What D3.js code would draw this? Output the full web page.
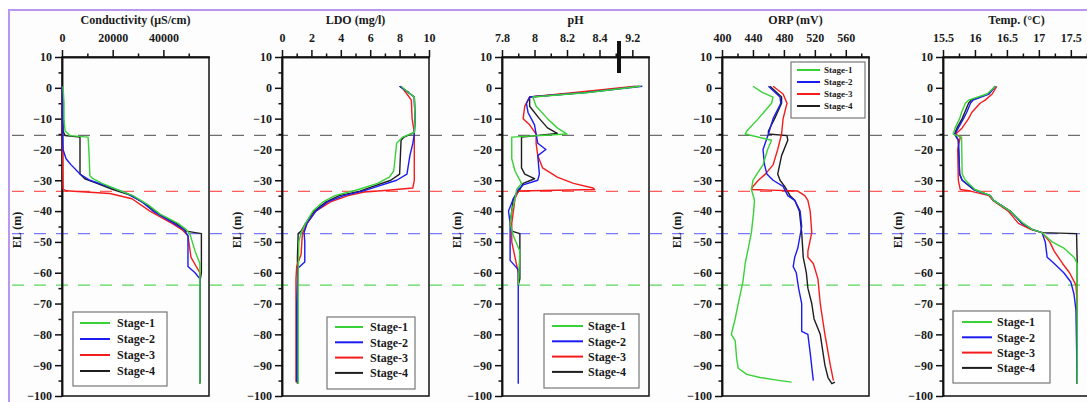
<!DOCTYPE html>
<html>
<head>
<meta charset="utf-8">
<script src="https://cdn.jsdelivr.net/npm/d3@7"></script>
<style>
  body { margin: 0; background: #fff; }
  svg text { font-family: "Liberation Serif", "Times New Roman", serif; font-weight: bold; fill: #1a1a1a; }
</style>
</head>
<body>
<div id="chart"></div>
<script>
// ---- data: [value, EL (m)] pairs ----
const stageNames = ['Stage-1', 'Stage-2', 'Stage-3', 'Stage-4'];
const stageColors = ['#38d238', '#1c1cf0', '#f41c1c', '#1e1e1e'];

const elMajor = d3.range(-100, 11, 10);
const elMinor = d3.range(-95, 10, 10);

const markerLevels = [-15.4, -33.6, -47.3, -64];
const markerColors = ['#6e6e6e', '#ff5c5c', '#7a7aff', '#5cd65c'];

// Conductivity (uS/cm)
const condMajor = [0, 20000, 40000];
const condMinor = [10000, 30000, 50000];
const condStage1 = [[400,0.5],[800,-5],[800,-10],[1200,-14],[3200,-15.5],[10300,-16],[10700,-22],[11000,-28.5],[12200,-29.5],[15800,-31],[21700,-33],[28000,-35],[34000,-38],[38700,-41],[45800,-44],[49000,-46],[50500,-47.5],[52500,-53],[54400,-57],[54400,-96]];
const condStage2 = [[0,0.5],[200,-15],[400,-20],[1600,-23],[3600,-25],[7100,-28],[11000,-30],[18100,-32],[24900,-34],[31600,-37],[35900,-40],[44200,-44],[48100,-46],[49700,-48],[49700,-58],[52500,-60],[54400,-62],[54400,-95.5]];
const condStage3 = [[0,0.5],[200,-20],[400,-32.8],[1500,-33.4],[18900,-34.3],[27600,-36],[34700,-40],[43400,-44],[47300,-46],[49700,-48],[50900,-55],[54400,-60],[54400,-95.5]];
const condStage4 = [[200,0.5],[400,-14],[1200,-15.5],[7100,-16],[7100,-28],[9000,-29.5],[13800,-31],[20100,-33],[27600,-35],[33500,-38],[38300,-41],[45000,-44],[49000,-46.5],[55000,-47.3],[55000,-60],[54400,-63],[54400,-96]];

// LDO (mg/l)
const ldoMajor = [0, 2, 4, 6, 8, 10];
const ldoMinor = [1, 3, 5, 7, 9];
const ldoStage1 = [[8.1,0.5],[8.6,-1.5],[9.0,-3],[9.05,-10],[9.0,-14.5],[8.2,-16],[7.8,-18],[7.6,-27],[7.3,-29],[6.5,-31],[5.2,-33],[3.6,-35],[2.8,-37],[2.1,-40],[1.6,-44],[1.3,-47],[1.15,-50],[1.1,-60],[1.1,-96]];
const ldoStage2 = [[8.0,0.5],[8.6,-1.5],[9.0,-3],[9.05,-10],[9.0,-15],[8.9,-18],[8.7,-22],[8.5,-28],[7.8,-30],[6.5,-32],[5.5,-33.5],[4.2,-35],[3.1,-37],[2.3,-40],[1.7,-44],[1.5,-47],[1.55,-50],[1.55,-56.5],[1.1,-58.5],[1.0,-70],[1.0,-95.5]];
const ldoStage3 = [[8.1,0.5],[8.5,-2],[8.8,-4],[8.85,-10],[9.0,-14.5],[9.0,-20],[9.0,-30],[8.9,-32.5],[7.0,-33.3],[5.6,-33.8],[4.5,-35],[3.3,-37],[2.3,-40],[1.7,-44],[1.4,-47],[1.35,-50],[1.3,-54],[1.0,-58],[0.95,-62],[0.95,-95.5]];
const ldoStage4 = [[8.0,0.5],[8.6,-1.5],[9.0,-3],[9.05,-10],[9.0,-14.5],[8.3,-16],[8.1,-17],[8.0,-28],[7.4,-30],[6.2,-32],[5.3,-33.5],[3.9,-35],[3.0,-37],[2.2,-40],[1.6,-44],[1.3,-46.5],[1.1,-47.3],[1.05,-55],[1.05,-96]];

// pH (broken axis)
const phMajor = [7.8, 8, 8.2, 8.4, 9.2];
const phMinor = [7.9, 8.1, 8.3, 8.5];
const phBreak = [8.52, 9.12];
const phStage1 = [[9.25,0.5],[8.33,-1.5],[7.99,-3],[8.01,-6],[8.08,-10],[8.14,-13],[8.2,-15],[7.86,-16],[7.86,-23],[7.88,-27],[7.92,-31],[7.89,-33],[7.88,-36],[7.86,-40],[7.85,-44],[7.87,-48],[7.91,-53],[7.9,-64]];
const phStage2 = [[9.26,0.5],[8.32,-1.5],[7.97,-3],[7.95,-5],[7.96,-8],[7.98,-10],[8.0,-12],[8.01,-15],[8.02,-18],[8.07,-20],[8.02,-22],[8.03,-28],[8.02,-30],[7.93,-31.5],[7.9,-33],[7.87,-36],[7.84,-40],[7.85,-44],[7.85,-47],[7.85,-56],[7.9,-59],[7.9,-96]];
const phStage3 = [[9.22,0.5],[8.25,-1.5],[7.97,-3],[7.94,-6],[7.93,-10],[7.97,-12],[8.01,-15],[8.01,-18],[8.02,-22],[8.05,-26],[8.14,-29],[8.24,-31],[8.36,-32.5],[8.37,-33],[7.9,-33.5],[7.88,-36],[7.87,-40],[7.86,-44],[7.86,-50],[7.9,-60],[7.9,-64]];
const phStage4 = [[9.24,0.5],[8.3,-1.5],[7.97,-3],[7.97,-6],[8.03,-10],[8.08,-13],[8.14,-14.8],[7.92,-16],[7.92,-26],[7.94,-28],[8.0,-29.5],[7.93,-31],[7.91,-33],[7.87,-36],[7.86,-40],[7.85,-44],[7.86,-46.5],[7.91,-47.3],[7.91,-62],[7.9,-64]];

// ORP (mV)
const orpMajor = [400, 440, 480, 520, 560];
const orpMinor = [420, 460, 500, 540, 580];
const orpStage1 = [[440,0.5],[452,-1.5],[466,-3],[464,-5],[447,-10],[432,-14],[430,-15],[464,-17],[459,-20],[453,-25],[445,-28],[440,-30],[438,-33],[442,-36.5],[441,-40],[438,-47],[434,-52],[430,-57],[427,-63],[421,-70],[417,-75],[412,-80],[417,-82],[419,-88],[421,-91],[432,-93],[449,-94],[475,-95],[490,-95.5]];
const orpStage2 = [[460,0.5],[475,-3],[476,-5],[466,-10],[460,-15],[453,-20],[455,-25],[458,-28],[466,-30],[479,-32],[485,-35],[494,-36.5],[501,-40],[503,-45],[498,-52],[494,-55],[492,-58],[496,-60],[499,-65],[503,-70],[503,-79],[511,-80],[514,-86],[518,-95]];
const orpStage3 = [[466,0.5],[479,-2],[484,-5],[479,-10],[477,-15],[472,-20],[466,-25],[456,-28],[447,-30],[440,-32],[438,-33],[498,-33.5],[507,-35],[511,-36.5],[514,-40],[516,-47],[511,-53],[511,-55],[518,-57],[524,-62],[527,-70],[533,-80],[540,-90],[544,-95]];
const orpStage4 = [[462,0.5],[477,-3],[477,-5],[468,-10],[460,-14],[460,-15],[484,-15.5],[485,-17],[477,-22],[472,-28],[475,-30],[481,-32],[488,-35],[494,-36.5],[500,-40],[503,-47],[505,-55],[509,-60],[511,-65],[516,-70],[519,-75],[527,-80],[530,-85],[533,-90],[537,-94],[542,-96],[546,-95.5]];

// Temp (C)
const tempMajor = [15.5, 16, 16.5, 17, 17.5];
const tempMinor = [15.75, 16.25, 16.75, 17.25, 17.75];
const tempStage1 = [[16.32,0.5],[16.19,-2],[15.9,-4],[15.85,-5],[15.79,-8],[15.76,-10],[15.69,-13],[15.66,-15],[15.79,-16],[15.8,-28],[15.85,-30],[16.0,-33],[16.24,-35],[16.29,-36.5],[16.55,-40],[16.76,-44],[16.9,-46],[17.05,-47],[17.21,-50],[17.39,-52],[17.55,-55],[17.6,-57],[17.6,-96]];
const tempStage2 = [[16.32,0.5],[16.22,-2],[15.97,-4],[15.93,-5],[15.87,-8],[15.82,-10],[15.74,-13],[15.69,-15],[15.74,-17],[15.76,-28],[15.8,-30],[15.98,-33],[16.24,-35],[16.29,-36.5],[16.55,-40],[16.74,-44],[16.9,-46],[17.05,-47],[17.1,-50],[17.13,-55],[17.24,-57],[17.39,-60],[17.5,-63],[17.55,-67],[17.58,-72],[17.6,-96]];
const tempStage3 = [[16.34,0.5],[16.27,-2],[16.16,-4],[16.08,-5],[15.95,-8],[15.9,-10],[15.8,-13],[15.7,-15],[15.77,-16],[15.73,-20],[15.74,-30],[15.77,-33],[15.93,-33.5],[16.22,-35],[16.28,-36.5],[16.52,-40],[16.68,-44],[16.88,-46],[17.05,-47],[17.17,-50],[17.24,-53],[17.37,-57],[17.48,-60],[17.58,-64],[17.6,-70],[17.6,-96]];
const tempStage4 = [[16.32,0.5],[16.2,-2],[15.94,-4],[15.9,-5],[15.84,-8],[15.8,-10],[15.72,-13],[15.68,-15],[15.74,-17],[15.76,-28],[15.8,-30],[15.98,-33],[16.24,-35],[16.29,-36.5],[16.55,-40],[16.74,-44],[16.9,-46],[17.05,-47],[17.59,-47.3],[17.6,-57],[17.6,-96]];

// ---- layout ----
const width = 1087;
const height = 402;
const plotTop = 57;
const plotBottom = 396;
const plotWidth = 147;

const panels = [
    { title: 'Conductivity (μS/cm)', left: 62, domain: [0, 58000], major: condMajor, minor: condMinor,
      series: [condStage1, condStage2, condStage3, condStage4],
      legend: { x: 73, y: 312, w: 94, h: 74, first: 11, step: 16, lineX: 7, lineLen: 30, textX: 44, font: 12 } },
    { title: 'LDO (mg/l)', left: 282, domain: [0, 10], major: ldoMajor, minor: ldoMinor,
      series: [ldoStage1, ldoStage2, ldoStage3, ldoStage4],
      legend: { x: 327, y: 317, w: 88, h: 72, first: 10, step: 15.3, lineX: 8, lineLen: 28, textX: 43, font: 12 } },
    { title: 'pH', left: 502, domain: [7.8, phBreak[0], phBreak[1], 9.3], rangeSteps: [0, 117, 117, 147],
      major: phMajor, minor: phMinor, breakAt: phBreak[0],
      series: [phStage1, phStage2, phStage3, phStage4],
      legend: { x: 544, y: 314, w: 95, h: 74, first: 12, step: 15.3, lineX: 8, lineLen: 31, textX: 44, font: 12 } },
    { title: 'ORP (mV)', left: 722, domain: [400, 590], major: orpMajor, minor: orpMinor,
      series: [orpStage1, orpStage2, orpStage3, orpStage4],
      legend: { x: 791, y: 62, w: 74, h: 56, first: 8, step: 12, lineX: 6, lineLen: 23, textX: 33, font: 9 } },
    { title: 'Temp. (°C)', left: 943, domain: [15.5, 17.8], major: tempMajor, minor: tempMinor,
      series: [tempStage1, tempStage2, tempStage3, tempStage4],
      legend: { x: 953, y: 311, w: 97, h: 72, first: 11, step: 15.3, lineX: 9, lineLen: 30, textX: 44, font: 12 } },
];

const svg = d3.select('#chart')
    .append('svg')
    .attr('width', width)
    .attr('height', height);

svg.append('rect').attr('width', width).attr('height', height).attr('fill', '#ffffff');
svg.append('rect').attr('x', 9).attr('y', 10).attr('width', width).attr('height', height).attr('fill', '#fdfdfd');

// purple frame
svg.append('path')
    .attr('d', `M9,${height} V10 H${width}`)
    .attr('fill', 'none')
    .attr('stroke', '#b896f2')
    .attr('stroke-width', 2);

const el = d3.scaleLinear().domain([-100, 10]).range([plotBottom, plotTop]);

// horizontal dashed stage markers across all panels
svg.selectAll('.marker')
    .data(markerLevels)
    .enter()
    .append('line')
    .attr('class', 'marker')
    .attr('x1', 12)
    .attr('x2', width)
    .attr('y1', (d) => el(d))
    .attr('y2', (d) => el(d))
    .attr('stroke', (d, i) => markerColors[i])
    .attr('stroke-width', 1.3)
    .attr('stroke-dasharray', '12,10');

panels.forEach((p) => {
    const g = svg.append('g').attr('transform', `translate(${p.left},0)`);

    const x = d3.scaleLinear()
        .domain(p.domain)
        .range(p.rangeSteps || [0, plotWidth]);

    // box (right + bottom)
    g.append('rect')
        .attr('x', 0)
        .attr('y', plotTop)
        .attr('width', plotWidth)
        .attr('height', plotBottom - plotTop)
        .attr('fill', 'none')
        .attr('stroke', '#111')
        .attr('stroke-width', 1.5);

    // top axis
    const topAxis = g.append('g')
        .attr('transform', `translate(0,${plotTop})`)
        .call(d3.axisTop(x).tickValues(p.major).tickSize(7).tickSizeOuter(0).tickPadding(8).tickFormat((d) => String(d)));
    g.append('g')
        .attr('transform', `translate(0,${plotTop})`)
        .call(d3.axisTop(x).tickValues(p.minor).tickSize(3.5).tickSizeOuter(0).tickFormat(''));

    // left axis
    g.append('g')
        .call(d3.axisLeft(el).tickValues(elMajor).tickSize(7).tickSizeOuter(0).tickPadding(3));
    g.append('g')
        .call(d3.axisLeft(el).tickValues(elMinor).tickSize(3.5).tickSizeOuter(0).tickFormat(''));

    g.selectAll('.domain, .tick line').attr('stroke', '#111').attr('stroke-width', 1.5);
    g.selectAll('.tick text').style('font-size', '12px').attr('fill', '#1a1a1a');

    // axis break mark on pH
    if (p.breakAt !== undefined) {
        g.append('rect')
            .attr('x', x(p.breakAt) - 2)
            .attr('y', 41)
            .attr('width', 4)
            .attr('height', 32)
            .attr('fill', '#111');
    }

    // title
    g.append('text')
        .attr('x', plotWidth / 2)
        .attr('y', 24)
        .attr('text-anchor', 'middle')
        .style('font-size', '12px')
        .text(p.title);

    // y label
    g.append('text')
        .attr('transform', 'rotate(-90)')
        .attr('x', -230)
        .attr('y', -41)
        .attr('text-anchor', 'middle')
        .style('font-size', '12px')
        .text('EL (m)');

    const line = d3.line()
        .x((d) => x(d[0]))
        .y((d) => el(d[1]));

    // stage 4 first so stage 1 sits on top
    [3, 2, 1, 0].forEach((i) => {
        g.append('path')
            .datum(p.series[i])
            .attr('fill', 'none')
            .attr('stroke', stageColors[i])
            .attr('stroke-width', 1.4)
            .attr('stroke-linejoin', 'round')
            .attr('d', line);
    });

    // legend
    const lg = svg.append('g').attr('transform', `translate(${p.legend.x},${p.legend.y})`);
    lg.append('rect')
        .attr('width', p.legend.w)
        .attr('height', p.legend.h)
        .attr('fill', '#ffffff')
        .attr('stroke', '#777')
        .attr('stroke-width', 1.2);
    stageNames.forEach((name, i) => {
        const yy = p.legend.first + i * p.legend.step;
        lg.append('line')
            .attr('x1', p.legend.lineX)
            .attr('x2', p.legend.lineX + p.legend.lineLen)
            .attr('y1', yy)
            .attr('y2', yy)
            .attr('stroke', stageColors[i])
            .attr('stroke-width', 2);
        lg.append('text')
            .attr('x', p.legend.textX)
            .attr('y', yy)
            .attr('dy', '0.35em')
            .style('font-size', p.legend.font + 'px')
            .text(name);
    });
});
</script>
</body>
</html>
